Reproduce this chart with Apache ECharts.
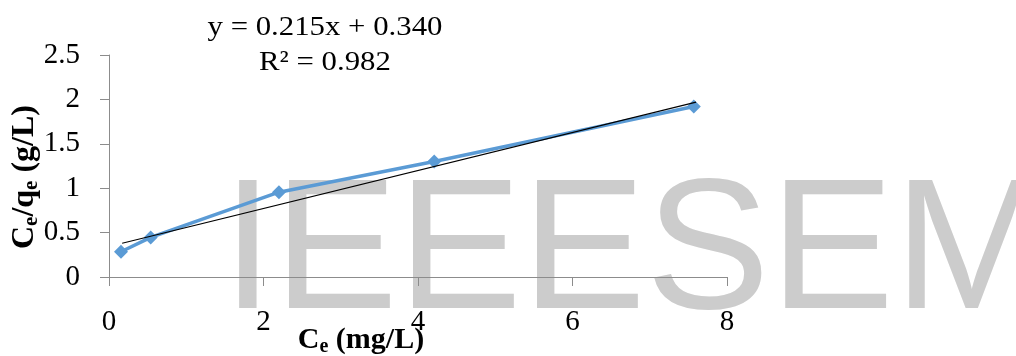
<!DOCTYPE html>
<html>
<head>
<meta charset="utf-8">
<script src="https://cdn.jsdelivr.net/npm/echarts@6/dist/echarts.min.js"></script>
<style>html,body{margin:0;padding:0;background:#fff}#c{width:1016px;height:356px}</style>
</head>
<body>
<div id="c"></div>
<script>
// Data
var ceValues = [0.155, 0.54, 2.2, 4.21, 7.57];
var ceQeValues = [0.284, 0.446, 0.955, 1.30, 1.92];
var trendX = [0.17, 7.6];
var trendY = [0.38, 1.97];
var xTicks = [0, 2, 4, 6, 8];
var yTicks = [0, 0.5, 1, 1.5, 2, 2.5];
var equationText = 'y = 0.215x + 0.340';
var r2Text = 'R² = 0.982';
var watermark = 'IEEESEM';

var pts = ceValues.map(function (v, i) { return [v, ceQeValues[i]]; });
var trend = trendX.map(function (v, i) { return [v, trendY[i]]; });

var serif = '"Liberation Serif", "Times New Roman", serif';
var axisCol = '#8c8c8c';

var chart = echarts.init(document.getElementById('c'), null, {renderer: 'canvas'});
chart.setOption({
  animation: false,
  backgroundColor: '#fff',
  grid: {left: 109, right: 289, top: 55, bottom: 79, outerBoundsMode: 'none'},
  graphic: [
    {type: 'text', z: -10, left: 222, top: 164,
     style: {text: watermark, font: '186px "Liberation Sans", Arial, sans-serif', fill: '#cccccc'}},
    {type: 'text', z: 10, x: 325, y: 28, scaleX: 1.1,
     style: {text: equationText, font: '28px ' + serif, fill: '#000', align: 'center', verticalAlign: 'middle'}},
    {type: 'text', z: 10, x: 325, y: 63, scaleX: 1.1,
     style: {text: r2Text, font: '28px ' + serif, fill: '#000', align: 'center', verticalAlign: 'middle'}}
  ],
  xAxis: {
    type: 'value', min: xTicks[0], max: xTicks[xTicks.length - 1], interval: 2,
    splitLine: {show: false},
    axisLine: {show: true, onZero: false, lineStyle: {color: axisCol, width: 1}},
    axisTick: {show: true, inside: false, length: 9, lineStyle: {color: axisCol}},
    axisLabel: {color: '#000', fontFamily: serif, fontSize: 29, margin: 31},
    name: '{b|C}{s|e}{b| (mg/L)}',
    nameLocation: 'middle', nameGap: 46, nameMoveOverlap: false,
    nameTextStyle: {padding: [0, 114, 0, 0],
      rich: {b: {fontFamily: serif, fontWeight: 'bold', fontSize: 30, color: '#000'},
             s: {fontFamily: serif, fontWeight: 'bold', fontSize: 20, color: '#000', verticalAlign: 'bottom', padding: [14, 0, 0, 0]}}}
  },
  yAxis: {
    type: 'value', min: yTicks[0], max: yTicks[yTicks.length - 1], interval: 0.5,
    splitLine: {show: false},
    axisLine: {show: true, lineStyle: {color: axisCol, width: 1}},
    axisTick: {show: true, inside: false, length: 9, lineStyle: {color: axisCol}},
    axisLabel: {color: '#000', fontFamily: serif, fontSize: 29, margin: 29},
    name: '{b|C}{s|e}{b|/q}{s|e}{b| (g/L)}',
    nameLocation: 'middle', nameGap: 67, nameRotate: 90, nameMoveOverlap: false,
    nameTextStyle: {padding: [0, 22, 0, 0],
      rich: {b: {fontFamily: serif, fontWeight: 'bold', fontSize: 32, color: '#000'},
             s: {fontFamily: serif, fontWeight: 'bold', fontSize: 21, color: '#000', verticalAlign: 'bottom', padding: [14, 0, 0, 0]}}}
  },
  series: [
    {type: 'line', data: pts, symbol: 'diamond', symbolSize: 14,
     lineStyle: {color: '#5b9bd5', width: 3.5},
     itemStyle: {color: '#5b9bd5'}, z: 3},
    {type: 'line', data: trend, symbol: 'none',
     lineStyle: {color: '#000', width: 1.2}, z: 4}
  ]
});
</script>
</body>
</html>
